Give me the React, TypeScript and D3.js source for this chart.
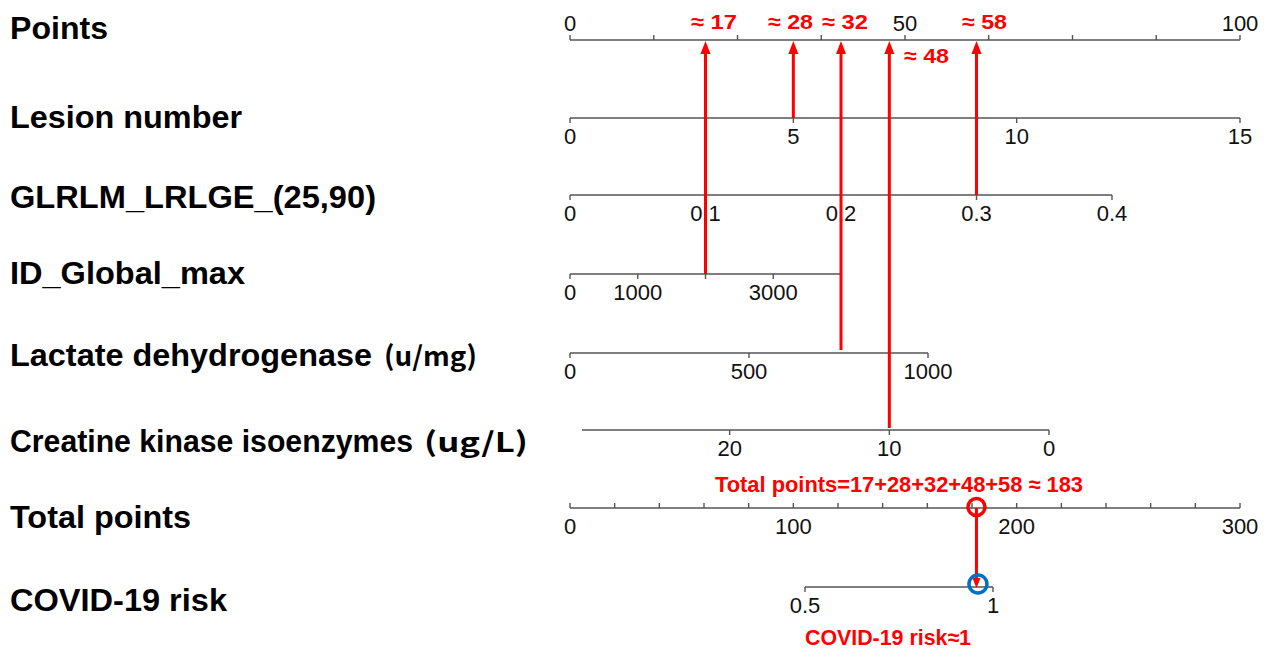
import React from "react";
import * as d3 from "d3";

// ---------- data ----------
const rowLabels = [
  "Points",
  "Lesion number",
  "GLRLM_LRLGE_(25,90)",
  "ID_Global_max",
  "Lactate dehydrogenase",
  "Creatine kinase isoenzymes",
  "Total points",
  "COVID-19 risk",
];
const rowUnits = ["", "", "", "", "(u/mg)", "(ug/L)", "", ""];

const pointsDomain = [0, 100];
const pointsTicks = [0, 12.5, 25, 37.5, 50, 62.5, 75, 87.5, 100];
const pointsTickLabels = [0, 50, 100];

const lesionDomain = [0, 15];
const lesionTicks = [0, 5, 10, 15];

const glrlmDomain = [0, 0.4];
const glrlmTicks = [0, 0.1, 0.2, 0.3, 0.4];

const idDomain = [0, 4000];
const idTicks = [0, 1000, 2000, 3000, 4000];
const idTickLabels = [0, 1000, 3000];

const ldhDomain = [0, 1000];
const ldhTicks = [0, 500, 1000];

const ckDomain = [30, 0];
const ckExtent = [29.25, 0];
const ckTicks = [20, 10, 0];

const totalDomain = [0, 300];
const totalTicks = d3.range(0, 301, 20);
const totalTickLabels = [0, 100, 200, 300];

const riskDomain = [0.5, 1];
const riskTicks = [0.5, 1];

// patient example
const exampleValues = { lesion: 5, glrlm: 0.3, id: 2000, ldh: 757, ck: 10 };
const pointLabels = ["≈ 17", "≈ 28", "≈ 32", "≈ 48", "≈ 58"];
const totalPointsValue = 182;
const riskValue = 0.96;
const totalText = "Total points=17+28+32+48+58 ≈ 183";
const riskText = "COVID-19 risk≈1";

// ---------- layout ----------
const X0 = 570;
const X1 = 1240;
const axisY = [40, 118, 195, 274, 353, 430, 508, 587];
const labelCY = [28, 117, 197, 273, 355, 441, 517, 600];
const labelW = [98, 232, 366, 235, 362, 403, 181, 217];
const unitX = [0, 0, 0, 0, 384, 424, 0, 0];
const unitW = [0, 0, 0, 0, 93, 104, 0, 0];
const RED = "#ff0000";
const BLUE = "#0070c0";
const AXIS = "#555555";
const FONT = "'Liberation Sans', Arial, Helvetica, sans-serif";

type AxisProps = {
  scale: d3.ScaleLinear<number, number>;
  y: number;
  extent: number[];
  ticks: number[];
  labels: number[];
  dir: number; // -1 up, 1 down
  above?: boolean;
};

function Axis({ scale, y, extent, ticks, labels, dir, above }: AxisProps) {
  return (
    <g>
      <line
        x1={scale(extent[0])}
        x2={scale(extent[1])}
        y1={y}
        y2={y}
        stroke={AXIS}
        strokeWidth={1.6}
      />
      {ticks.map((t, i) => (
        <line
          key={"t" + i}
          x1={scale(t)}
          x2={scale(t)}
          y1={y}
          y2={y + dir * 5}
          stroke={AXIS}
          strokeWidth={1.4}
        />
      ))}
      {labels.map((t, i) => (
        <text
          key={"l" + i}
          x={scale(t)}
          y={above ? y - 9 : y + 26}
          textAnchor="middle"
          fontFamily={FONT}
          fontSize={22}
          fill="#111"
        >
          {String(t)}
        </text>
      ))}
    </g>
  );
}

function Arrow({ x, y0, y1, label, lx, ly, lw }: any) {
  return (
    <g>
      <line x1={x} x2={x} y1={y0} y2={y1 + 10} stroke={RED} strokeWidth={3} />
      <path
        d={`M${x},${y1 + 1} L${x - 5},${y1 + 14} L${x + 5},${y1 + 14} Z`}
        fill={RED}
      />
      <text
        x={lx}
        y={ly}
        fontFamily={FONT}
        fontWeight="bold"
        fontSize={21}
        fill={RED}
        textLength={lw}
        lengthAdjust="spacingAndGlyphs"
      >
        {label}
      </text>
    </g>
  );
}

export default function App() {
  const sPoints = d3.scaleLinear().domain(pointsDomain).range([X0, X1]);
  const sLesion = d3.scaleLinear().domain(lesionDomain).range([X0, X1]);
  const sGlrlm = d3.scaleLinear().domain(glrlmDomain).range([X0, 1112]);
  const sId = d3.scaleLinear().domain(idDomain).range([X0, 841]);
  const sLdh = d3.scaleLinear().domain(ldhDomain).range([X0, 928]);
  const sCk = d3.scaleLinear().domain(ckDomain).range([X0, 1049]);
  const sTotal = d3.scaleLinear().domain(totalDomain).range([X0, X1]);
  const sRisk = d3.scaleLinear().domain(riskDomain).range([805, 993]);

  const arrows = [
    { x: sId(exampleValues.id), y0: axisY[3], label: pointLabels[0], lx: 691, ly: 29, lw: 46 },
    { x: sLesion(exampleValues.lesion), y0: axisY[1], label: pointLabels[1], lx: 768, ly: 29, lw: 45 },
    { x: sLdh(exampleValues.ldh), y0: axisY[4] - 3, label: pointLabels[2], lx: 822, ly: 29, lw: 46 },
    { x: sCk(exampleValues.ck), y0: axisY[5] - 2, label: pointLabels[3], lx: 904, ly: 63, lw: 45 },
    { x: sGlrlm(exampleValues.glrlm), y0: axisY[2], label: pointLabels[4], lx: 962, ly: 29, lw: 45 },
  ];

  const tx = sTotal(totalPointsValue);
  const rx = sRisk(riskValue);

  return (
    <svg
      width={1270}
      height={650}
      style={{ position: "absolute", left: 0, top: 0, background: "#fff" }}
    >
      <rect width={1270} height={650} fill="#fff" />
      {rowLabels.map((l, i) => (
        <text
          key={i}
          x={10}
          y={labelCY[i] + 11}
          fontFamily={FONT}
          fontWeight="bold"
          fontSize={32}
          fill="#000"
        >
          <tspan textLength={labelW[i]} lengthAdjust="spacingAndGlyphs">
            {l}
          </tspan>
          {rowUnits[i] ? (
            <tspan
              x={unitX[i]}
              fontSize={27}
              fontWeight={600}
              fontFamily="'Noto Sans CJK SC', 'Noto Sans', sans-serif"
              textLength={unitW[i]}
              lengthAdjust="spacingAndGlyphs"
            >
              {rowUnits[i]}
            </tspan>
          ) : null}
        </text>
      ))}

      <Axis scale={sPoints} y={axisY[0]} extent={pointsDomain} ticks={pointsTicks} labels={pointsTickLabels} dir={-1} above />
      <Axis scale={sLesion} y={axisY[1]} extent={lesionDomain} ticks={lesionTicks} labels={lesionTicks} dir={1} />
      <Axis scale={sGlrlm} y={axisY[2]} extent={glrlmDomain} ticks={glrlmTicks} labels={glrlmTicks} dir={1} />
      <Axis scale={sId} y={axisY[3]} extent={idDomain} ticks={idTicks} labels={idTickLabels} dir={1} />
      <Axis scale={sLdh} y={axisY[4]} extent={ldhDomain} ticks={ldhTicks} labels={ldhTicks} dir={1} />
      <Axis scale={sCk} y={axisY[5]} extent={ckExtent} ticks={ckTicks} labels={ckTicks} dir={1} />
      <Axis scale={sTotal} y={axisY[6]} extent={totalDomain} ticks={totalTicks} labels={totalTickLabels} dir={-1} />
      <Axis scale={sRisk} y={axisY[7]} extent={riskDomain} ticks={riskTicks} labels={riskTicks} dir={1} />

      {arrows.map((a, i) => (
        <Arrow key={i} x={a.x} y0={a.y0} y1={axisY[0]} label={a.label} lx={a.lx} ly={a.ly} lw={a.lw} />
      ))}

      <text
        x={715}
        y={492}
        fontFamily={FONT}
        fontWeight="bold"
        fontSize={22}
        fill={RED}
        textLength={368}
        lengthAdjust="spacingAndGlyphs"
      >
        {totalText}
      </text>

      {/* total -> risk connector */}
      <line x1={tx} x2={tx} y1={axisY[6]} y2={axisY[7] - 8} stroke={RED} strokeWidth={3} />
      <path
        d={`M${tx},${axisY[7] + 1} L${tx - 4},${axisY[7] - 9} L${tx + 4},${axisY[7] - 9} Z`}
        fill={RED}
      />
      <circle cx={tx} cy={axisY[6] - 1} r={8.5} fill="none" stroke={RED} strokeWidth={3.5} />
      <circle cx={rx} cy={axisY[7] - 3} r={9} fill="none" stroke={BLUE} strokeWidth={3.5} />

      <text
        x={805}
        y={645}
        fontFamily={FONT}
        fontWeight="bold"
        fontSize={22}
        fill={RED}
        textLength={166}
        lengthAdjust="spacingAndGlyphs"
      >
        {riskText}
      </text>
    </svg>
  );
}
